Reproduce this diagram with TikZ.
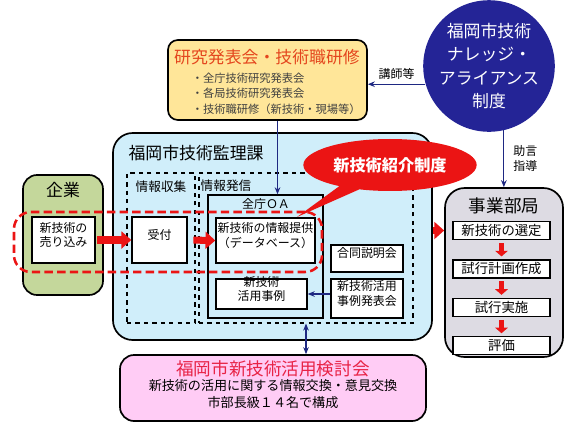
\documentclass[tikz,border=0pt]{standalone}
\usepackage{fontspec}
\setmainfont{Noto Sans CJK JP}
\usetikzlibrary{positioning, fit, arrows.meta, shapes.callouts}
\definecolor{paneyellow}{RGB}{255,230,153}
\definecolor{paneblue}{RGB}{208,238,250}
\definecolor{panegreen}{RGB}{196,215,155}
\definecolor{panegray}{RGB}{221,219,227}
\definecolor{panepink}{RGB}{255,204,245}
\definecolor{navy}{RGB}{30,40,130}
\definecolor{ballblue}{RGB}{36,36,150}
\definecolor{headorange}{RGB}{228,70,30}
\definecolor{headred}{RGB}{232,35,70}
\definecolor{arrowred}{RGB}{235,20,20}
\tikzset{
panel/.style={draw, line width=1.2pt, inner sep=0pt}, % the large coloured boxes
wbox/.style={draw, line width=1pt, fill=white, inner sep=0pt, align=center, font=\fontsize{8.5}{10.5}\selectfont}, % white boxes with text
stepbox/.style={wbox, font=\fontsize{9.5}{11}\selectfont, minimum width=2.43cm, minimum height=0.45cm}, % steps in the division box
group/.style={draw, dashed, line width=0.8pt, inner sep=0pt}, % dashed groups
link/.style={draw=navy, line width=0.8pt, -{Stealth[length=5pt,width=4pt]}}, % thin blue arrows
redarrow/.style={arrowred, line width=5pt, -{Triangle[length=7pt,width=12pt]}}, % big red arrows
smallred/.style={arrowred, line width=3.5pt, -{Triangle[length=4pt,width=9pt]}}, % small red arrows
title/.style={font=\fontsize{12}{14}\selectfont},
lbl/.style={font=\fontsize{8.5}{10.5}\selectfont, align=center},
}
\begin{document}
\begin{tikzpicture}[x=0.025cm, y=-0.025cm]
\useasboundingbox (0,0) rectangle (578,436);

% seminars
\node[panel, fill=paneyellow, rounded corners=7pt, fit={(168,40) (367,120)}] (seminar) {};
\node[title, text=headorange] (seminartitle) at (267,57) {研究発表会・技術職研修};
\node[align=left, anchor=north west, font=\fontsize{8}{11}\selectfont, text=black!75] (seminarlist) at (187,68) {・全庁技術研究発表会\\・各局技術研究発表会\\・技術職研修（新技術・現場等）};

% supervision section
\node[panel, fill=paneblue, rounded corners=14pt, fit={(113,133) (432,340)}] (kanri) {};
\node[title] (kanrititle) at (196,153) {福岡市技術監理課};
\node[group, fit={(127,173) (195,323)}] (collect) {};
\node[lbl, font=\fontsize{9}{11}\selectfont] (collectlbl) at (161,187) {情報収集};
\node[group, fit={(199,173) (413,323)}] (send) {};
\node[lbl, font=\fontsize{9}{11}\selectfont] (sendlbl) at (226,186) {情報発信};
\node[draw, line width=1pt, inner sep=0pt, fit={(208,195) (323,318)}] (oa) {};
\node[lbl] (oalbl) at (266,204) {全庁ＯＡ};
\node[wbox, fit={(132,217) (187,263)}] (reception) {受付};
\node[wbox, fit={(216,218) (315,263)}] (dbinfo) {新技術の情報提供\\（データベース）};
\node[wbox, fit={(216,279) (307,309)}] (cases) {新技術\\活用事例};
\node[wbox, fit={(331,245) (403,272)}] (briefing) {合同説明会};
\node[wbox, fit={(331,279) (403,318)}] (casetalk) {新技術活用\\事例発表会};

% company
\node[panel, fill=panegreen, rounded corners=10pt, fit={(23,175) (103,295)}] (company) {};
\node[title] (companylbl) at (63,190) {企業};
\node[wbox, fit={(32,217) (95,263)}] (pitch) {新技術の\\売り込み};

% business division
\node[panel, fill=panegray, rounded corners=14pt, fit={(445,188) (563,357)}] (division) {};
\node[title, font=\fontsize{12.5}{14}\selectfont] (divisionlbl) at (504,206) {事業部局};
\node[stepbox] (select) at (501.5,230.5) {新技術の選定};
\node[stepbox, below=0.475cm of select] (plan) {試行計画作成};
\node[stepbox, below=0.475cm of plan] (trial) {試行実施};
\node[stepbox, below=0.475cm of trial] (evaluate) {評価};

% council
\node[panel, fill=panepink, rounded corners=10pt, fit={(120,355) (426,421)}] (council) {};
\node[title, text=headred, font=\fontsize{12.5}{14}\selectfont] (counciltitle) at (273,369) {福岡市新技術活用検討会};
\node[lbl, font=\fontsize{9.3}{12}\selectfont] (councilnote) at (273,394) {新技術の活用に関する情報交換・意見交換\\市部長級１４名で構成};

% alliance
\node[circle, fill=ballblue, text=white, minimum size=3.1cm, inner sep=0pt, align=center, font=\fontsize{12}{16.5}\selectfont] (alliance) at (489,66) {福岡市技術\\ナレッジ・\\アライアンス\\制度};

\coordinate (drop) at ([xshift=0.25cm]seminar.south);
\draw[link] (alliance.196) -- (alliance.196 -| seminar.east) node[midway, above, lbl] {講師等};
\draw[link] (alliance.-77) -- (alliance.-77 |- division.north) node[midway, right, xshift=3pt, lbl] {助言\\指導};
\draw[link] (drop) -- (drop |- oa.north);
\draw[link] (casetalk.west |- cases.east) -- (cases.east);
\draw[link, {Stealth[length=5pt,width=4pt]}-{Stealth[length=5pt,width=4pt]}] (send.south) -- (send.south |- council.north);

\draw[redarrow, shorten <=1pt] (pitch.east) -- (reception.west);
\draw[redarrow, shorten <=4pt] (reception.east) -- (dbinfo.west);
\draw[redarrow] (kanri.east |- select) -- (select -| division.west);
\draw[smallred, shorten <=2pt, shorten >=2pt] (select.south) -- (plan.north);
\draw[smallred, shorten <=2pt, shorten >=2pt] (plan.south) -- (trial.north);
\draw[smallred, shorten <=2pt, shorten >=2pt] (trial.south) -- (evaluate.north);

% introduction scheme
\node[draw=arrowred, line width=1.8pt, dash pattern=on 6pt off 3pt, rounded corners=12pt, inner sep=0pt, fit={(14,212) (322,272)}] (highlight) {};
\node[ellipse callout, fill=arrowred, text=white, font=\bfseries\fontsize{11.5}{13}\selectfont, minimum width=3.6cm, minimum height=1.3cm, callout absolute pointer={(297,217)}] (intro) at (390,165) {新技術紹介制度};
\end{tikzpicture}
\end{document}
